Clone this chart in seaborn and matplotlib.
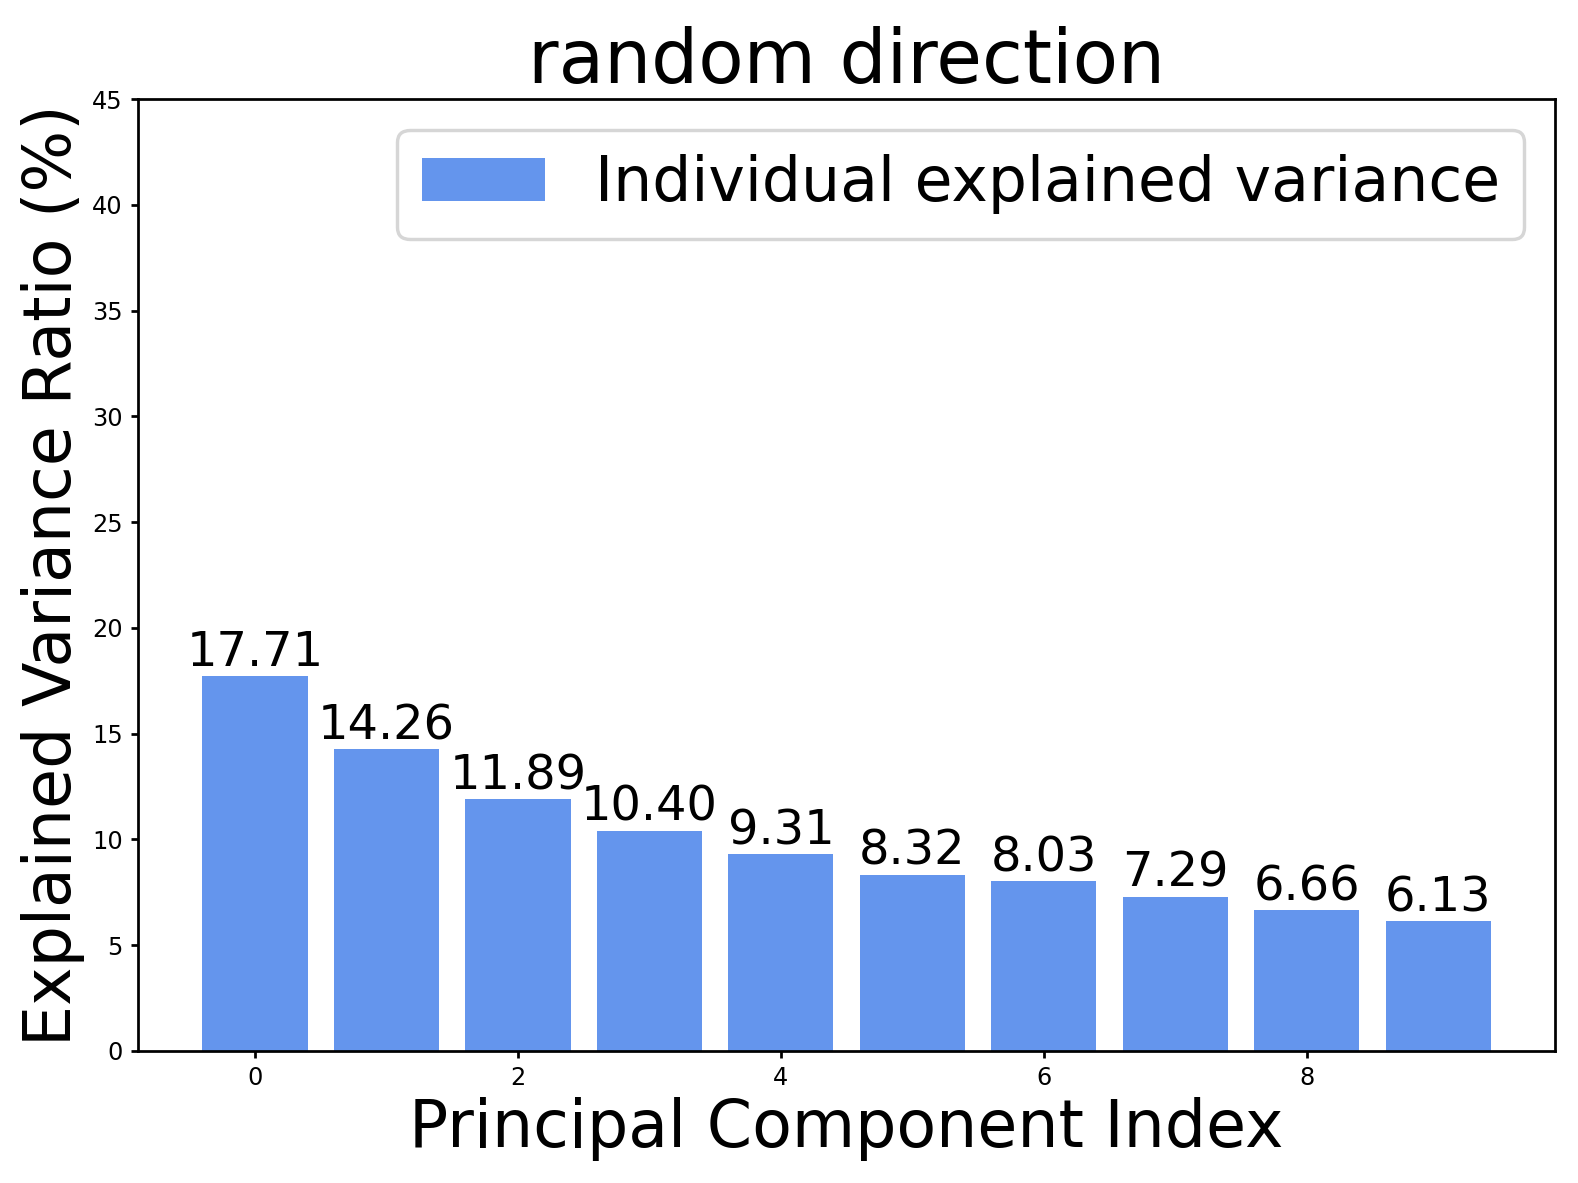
import matplotlib
matplotlib.use("Agg")
import matplotlib.pyplot as plt
import seaborn as sns
import pandas as pd

components = [0, 1, 2, 3, 4, 5, 6, 7, 8, 9]
explained = [17.71, 14.26, 11.89, 10.40, 9.31, 8.32, 8.03, 7.29, 6.66, 6.13]
y_ticks = [0, 5, 10, 15, 20, 25, 30, 35, 40, 45]
x_ticks = [0, 2, 4, 6, 8]

df = pd.DataFrame({"pc": components, "ratio": explained})

plt.rcParams['font.family'] = ['DejaVu Sans']
fig = plt.figure(figsize=(1578 / 246.5, 1183 / 246.5), dpi=246.5)
ax = fig.add_axes([0.0875, 0.1116, 0.898, 0.8047])

sns.barplot(data=df, x="pc", y="ratio", native_scale=True, color="cornflowerblue",
            saturation=1, width=0.8, ax=ax, label="Individual explained variance")
for c in ax.containers:
    ax.bar_label(c, fmt="%.2f", fontsize=14)

ax.set_ylim(0, 45)
ax.set_yticks(y_ticks)
ax.set_xticks(x_ticks)
ax.set_xlim(-0.89, 9.89)
ax.tick_params(labelsize=7, length=2, pad=2.5)
ax.set_xlabel("Principal Component Index", fontsize=19, labelpad=2)
ax.set_ylabel("Explained Variance Ratio (%)", fontsize=19, labelpad=2)
ax.set_title("random direction", fontsize=21.7, pad=4)
ax.legend(loc="upper right", fontsize=18)

fig.savefig("out.png", dpi=246.5)
